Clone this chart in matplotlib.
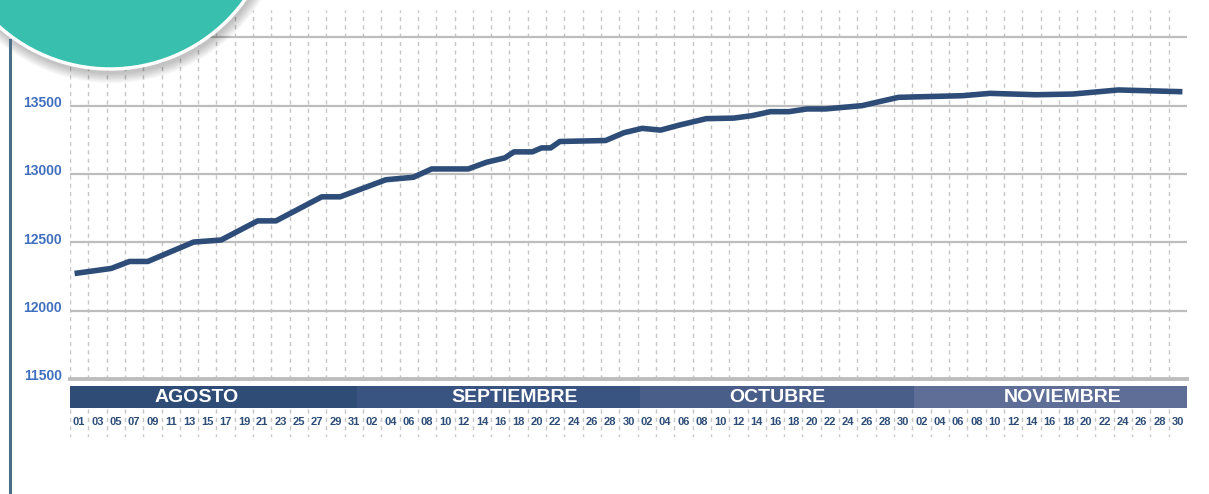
import matplotlib
matplotlib.use("Agg")
import matplotlib.pyplot as plt
from matplotlib.patches import Circle, Rectangle
from matplotlib.transforms import ScaledTranslation

plt.rcParams['font.family'] = ['Liberation Sans', 'DejaVu Sans']

# daily series, Aug 1 = day 0 ... Nov 30 = day 121
days = [0, 4, 6, 8, 13, 16, 20, 22, 27, 29, 34, 37, 39, 43, 45, 47, 48, 50, 51, 52,
        53, 58, 60, 62, 64, 66, 69, 72, 74, 76, 78, 80, 82, 86, 88, 90, 97, 100, 105, 109,
        114, 121]
values = [12272, 12309, 12360, 12360, 12502, 12517, 12657, 12657, 12833, 12833,
          12958, 12976, 13037, 13037, 13086, 13118, 13162, 13162, 13191, 13191,
          13238, 13245, 13302, 13334, 13321, 13357, 13405, 13409, 13427, 13456,
          13456, 13476, 13476, 13500, 13531, 13561, 13573, 13590, 13580, 13585,
          13615, 13602]

months = ["AGOSTO", "SEPTIEMBRE", "OCTUBRE", "NOVIEMBRE"]
month_edges = [0, 31.3, 62.3, 92.2, 122]
month_text_x = [13.8, 48.6, 77.3, 108.4]
month_colors = ['#2e4c76', '#3a5482', '#4a5e8a', '#5e6e97']

day_labels = ([f"{d:02d}" for d in range(1, 32, 2)] +
              [f"{d:02d}" for d in range(2, 31, 2)] * 3)
yticks = [11500, 12000, 12500, 13000, 13500, 14000]

W, H = 1209, 494
fig = plt.figure(figsize=(W / 100, H / 100), dpi=100)
fig.patch.set_facecolor('white')

navy = '#2d4d78'
grid_x = list(range(0, 122, 2))

# main chart
ax = fig.add_axes([70 / W, (H - 379) / H, 1117 / W, 369 / H])
ax.set_xlim(0, 122)
ax.set_ylim(11500, 14200)
for gx in grid_x:
    ax.axvline(gx, color='#c6c6c6', lw=1, ls=(0, (3, 3)), zorder=1)
for yv in yticks[1:]:
    ax.axhline(yv, color='#bdbdbd', lw=1.6, zorder=2)
ax.axhline(11500, color='#bdbdbd', lw=2.8, zorder=2, clip_on=False)
ax.plot([d + 0.5 for d in days], values, color=navy, lw=4.0, zorder=3,
        solid_joinstyle='round', solid_capstyle='butt')
ax.set_yticks(yticks)
ax.set_yticklabels([str(v) for v in yticks])
ax.tick_params(axis='y', length=0, pad=6, labelsize=10, labelcolor='#3f6fbe')
for lbl in ax.get_yticklabels():
    lbl.set_fontweight('bold')
    lbl.set_transform(lbl.get_transform() + ScaledTranslation(0, 3 / 72, fig.dpi_scale_trans))
ax.set_xticks([])
for s in ax.spines.values():
    s.set_visible(False)

# month band + day labels
bx = fig.add_axes([70 / W, (H - 437) / H, 1117 / W, 54 / H])
bx.set_xlim(0, 122)
bx.set_ylim(437, 383)
bx.axis('off')
for i, m in enumerate(months):
    bx.add_patch(Rectangle((month_edges[i], 385.5), month_edges[i + 1] - month_edges[i], 22,
                           color=month_colors[i], lw=0))
    bx.text(month_text_x[i], 397, m, color='white', fontsize=14, fontweight='bold',
            ha='center', va='center')
for gx in grid_x:
    bx.plot([gx, gx], [409, 437], color='#c6c6c6', lw=1, ls=(0, (3, 3)))
for i, lab in enumerate(day_labels):
    bx.text(2 * i + 1, 422, lab, color=navy, fontsize=8, fontweight='bold',
            ha='center', va='center')

# decorations: left bar and teal circle
ov = fig.add_axes([0, 0, 1, 1], zorder=10)
ov.set_xlim(0, W)
ov.set_ylim(H, 0)
ov.axis('off')
ov.patch.set_alpha(0)
ov.plot([10, 10], [40, H], color='#4a6f88', lw=2.2)
for k in range(8):
    ov.add_patch(Circle((112, -92), 166 + k * 1.3, color='#000000', alpha=0.03, lw=0))
ov.add_patch(Circle((110, -97), 166, fc='#39bfad', ec='white', lw=2.5))

fig.savefig('out.png', dpi=100)
